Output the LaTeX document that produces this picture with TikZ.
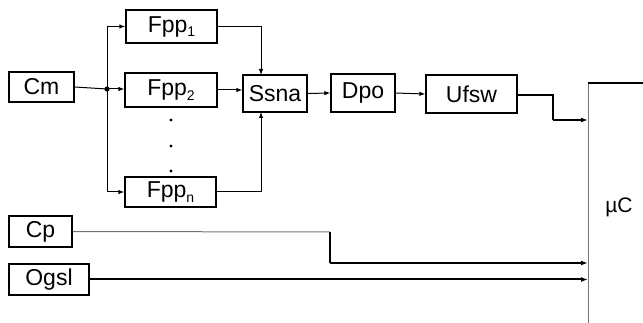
\documentclass[tikz,border=0pt]{standalone}
\usepackage{fontspec}
\setmainfont{Liberation Sans}
\usetikzlibrary{arrows.meta}
\newcommand{\sbs}[1]{{\fontsize{14}{14}\selectfont\raisebox{-4.5pt}{#1}}}
\begin{document}
\begin{tikzpicture}[x=1pt,y=-1pt,
  blk/.style={draw,line width=1.3pt,inner sep=0pt,align=center,font=\fontsize{23}{26}\selectfont},
  conn/.style={line width=1pt,-{Latex[length=6pt,width=4.5pt]}},
  thk/.style={line width=2pt},
  gry/.style={draw=black!55,line width=1pt}]
\useasboundingbox (0,0) rectangle (643,323);
\node[blk,minimum width=65pt,minimum height=30pt] (Cm) at (41.5,87) {Cm};
\node[blk,minimum width=91pt,minimum height=33pt] (F1) at (171.5,26.5) {Fpp\sbs{1}};
\node[blk,minimum width=92pt,minimum height=34pt] (F2) at (171,90) {Fpp\sbs{2}};
\node[blk,minimum width=91pt,minimum height=30pt] (Fn) at (170.5,192) {Fpp\sbs{n}};
\node[blk,minimum width=64pt,minimum height=37pt] (Ss) at (275,93.5) {Ssna};
\node[blk,minimum width=64pt,minimum height=38pt] (Dp) at (363,93) {Dpo};
\node[blk,minimum width=91pt,minimum height=38pt] (Uf) at (471.5,94) {Ufsw};
\node[blk,minimum width=63pt,minimum height=31pt] (Cp) at (40.5,231.5) {Cp};
\node[blk,minimum width=80pt,minimum height=31pt] (Og) at (49,279.5) {Ogsl};
\node[font=\fontsize{21}{23}\selectfont] (uC) at (619,207) {µC};
% dots
\fill (171,120) circle (1.6pt) (171,146) circle (1.6pt) (171,171) circle (1.6pt);
% junction
\coordinate (J) at (107,89);
\fill (J) circle (2.6pt);
\draw[line width=1pt] (Cm.east) -- (J);
\draw[conn] (J) |- (F1.west);
\draw[conn] (J) -- (F2.west |- J);
\draw[conn] (J) |- (Fn.west);
% to Ssna
\coordinate (Sn) at (261,75);
\coordinate (Ssb) at (261,112);
\draw[conn] (F1.east) -| (Sn);
\draw[conn] (F2.east) -- (Ss.west |- F2.east);
\draw[conn] (Fn.east) -| (Ssb);
\draw[conn] (Ss.east) -- (Dp.west);
\draw[conn] (Dp.east) -- (Uf.west);
% muC bus
\coordinate (mT) at (588,83);
\coordinate (mB) at (588,323);
\coordinate (mR) at (643,83);
\draw[gry] (mT) -- (mB);
\draw[thk] (mT) -- (mR);
% Ufsw out
\coordinate (u1) at (553,95);
\coordinate (u2) at (553,120);
\draw[line width=1.1pt] (Uf.east |- u1) -- (u1) -- (u2);
\draw[thk,-{Latex[length=7pt,width=5pt]}] (u2) -- (mT |- u2);
% Cp
\coordinate (c1) at (330,232);
\coordinate (c2) at (330,263);
\draw[gry] (Cp.east) -- (c1);
\draw[line width=1.1pt] (c1) -- (c2);
\draw[thk,-{Latex[length=7pt,width=5pt]}] (c2) -- (mT |- c2);
% Ogsl
\draw[thk,-{Latex[length=7pt,width=5pt]}] (Og.east) -- (mT |- Og.east);
\end{tikzpicture}
\end{document}
